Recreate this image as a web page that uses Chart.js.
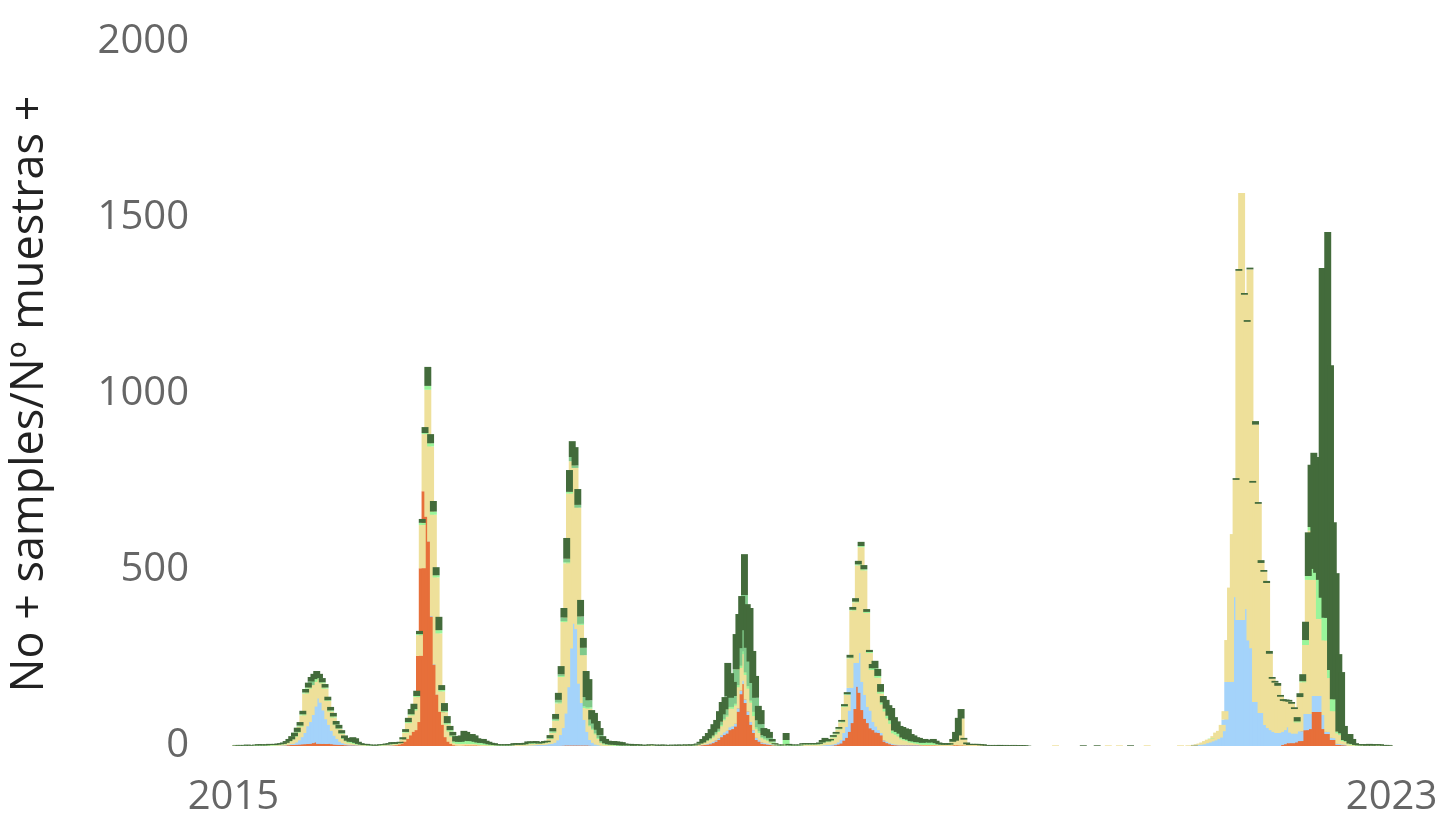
<!DOCTYPE html>
<html>
<head>
<meta charset="utf-8">
<title>No + samples/Nº muestras +</title>
<script src="https://cdn.jsdelivr.net/npm/chart.js@4.4.0/dist/chart.umd.min.js"></script>
<style>
  html, body { margin: 0; padding: 0; background: #fff; }
  #wrap { width: 1443px; height: 815px; }
</style>
</head>
<body>
<div id="wrap"><canvas id="myChart"></canvas></div>
<script>
// weekly counts, 2015 -> 2023 (418 weeks)
const yearLabels = ['2015', '2023'];
const yTicks = [0, 500, 1000, 1500, 2000];

const orange = [
  0,0,0,0,0,0,0,0,0,0,0,0,0,0,0,0,0,1,1,2,
  3,3,4,4,5,5,6,6,8,12,10,6,8,6,6,10,5,4,4,3,
  3,2,2,2,2,1,1,1,1,0,0,0,0,1,1,1,1,2,2,4,
  6,12,20,30,40,45,68,256,505,724,651,580,367,230,145,97,60,25,12,6,
  2,1,1,2,2,2,2,2,2,1,1,1,0,0,0,0,0,0,0,0,
  0,0,0,0,0,0,0,0,0,1,1,1,1,1,1,1,1,1,1,2,
  2,2,2,2,2,2,2,2,2,1,1,0,0,0,0,0,0,0,0,0,
  0,0,0,0,0,0,0,0,0,0,0,0,0,0,0,0,0,0,0,0,
  0,0,0,0,0,0,0,1,2,3,4,5,8,12,17,25,31,35,45,48,
  55,97,147,176,176,122,88,60,37,17,12,6,5,4,3,1,0,0,0,0,
  0,0,0,0,0,0,0,0,0,0,0,0,0,1,1,1,2,4,7,15,
  23,40,65,105,168,210,151,102,77,65,50,45,38,37,30,12,8,5,3,2,
  2,2,2,2,2,2,2,2,2,2,2,2,2,2,1,1,1,1,1,2,
  3,2,2,2,1,1,1,1,1,0,0,0,0,0,0,0,0,0,0,0,
  0,0,0,0,0,0,0,0,0,0,0,0,0,0,0,0,0,0,0,0,
  0,0,0,0,0,0,0,0,0,0,0,0,0,0,0,0,0,0,0,0,
  0,0,0,0,0,0,0,0,0,0,0,0,0,0,0,0,0,0,0,0,
  0,0,0,0,0,0,0,0,0,0,0,0,0,0,0,0,0,0,0,0,
  0,0,0,0,0,0,0,0,0,0,0,0,0,0,0,0,0,3,5,8,
  10,8,10,14,14,45,45,48,97,97,97,97,97,48,34,34,17,17,3,3,
  2,2,0,0,0,0,0,0,0,0,0,0,0,0,0,0,0,0
];

const blue = [
  0,0,0,0,0,0,0,0,0,0,0,0,0,0,0,1,1,1,1,1,
  2,3,6,12,20,32,50,62,80,100,125,133,115,95,70,50,38,25,16,9,
  5,3,2,2,1,1,1,0,0,0,0,0,0,0,0,1,1,1,0,0,
  0,0,0,0,0,0,0,0,0,0,0,1,2,2,1,0,0,0,0,0,
  0,0,0,0,0,0,0,0,0,0,0,0,0,0,0,0,0,0,0,0,
  0,1,1,1,1,1,2,2,2,2,2,2,3,4,5,8,15,30,50,90,
  165,275,345,425,330,175,120,72,38,16,8,4,2,1,0,0,0,0,0,0,
  0,0,0,0,0,0,0,0,0,0,0,0,0,0,0,0,0,0,0,0,
  0,0,0,0,0,0,0,0,1,1,2,3,4,4,5,6,7,8,8,8,
  8,10,10,10,10,10,10,8,8,6,5,4,3,3,2,1,0,0,0,2,
  0,0,0,0,0,1,1,1,1,1,1,1,2,2,2,3,4,6,10,22,
  31,60,100,131,68,68,113,80,68,46,50,23,17,8,7,4,4,3,3,2,
  2,2,2,2,1,1,1,1,0,0,0,0,0,0,0,0,0,0,0,0,
  0,0,0,0,0,0,0,0,0,0,0,0,0,0,0,0,0,0,0,0,
  0,0,0,0,0,0,0,0,0,0,0,0,0,0,0,0,0,0,0,0,
  0,0,0,0,0,0,0,0,0,0,0,0,0,0,0,0,0,0,0,0,
  0,0,0,0,0,0,0,0,0,0,0,0,0,0,0,0,0,0,0,0,
  0,0,0,0,0,0,0,3,4,5,8,10,13,16,20,24,42,75,182,182,
  423,423,358,358,497,389,300,278,125,125,94,94,60,51,45,40,37,37,40,45,
  45,30,25,28,28,46,46,43,45,45,45,45,45,40,6,6,6,5,3,3,
  2,2,0,0,0,0,0,0,0,0,0,0,0,0,0,0,0,0
];

const yellow = [
  1,1,1,1,0,1,1,1,1,1,1,1,1,2,2,1,2,2,3,5,
  8,12,16,22,30,50,93,95,85,70,60,50,55,62,52,38,38,30,28,22,
  12,8,5,4,3,2,1,1,1,1,1,1,1,1,1,1,2,3,3,3,
  2,6,18,35,47,56,71,59,123,162,361,270,288,247,174,58,36,36,29,20,
  6,5,5,5,5,4,4,4,3,3,3,2,2,2,2,1,1,1,1,1,
  1,2,2,2,2,3,4,4,4,4,3,4,5,5,14,28,55,90,145,260,
  352,440,462,363,345,167,136,34,66,39,37,29,18,7,4,3,2,2,1,1,
  1,1,1,1,1,1,1,1,1,1,2,2,1,1,1,1,1,1,1,1,
  1,1,1,2,1,1,1,2,3,5,8,10,12,16,18,25,35,40,55,50,
  52,60,65,75,80,70,65,55,40,25,20,12,10,8,4,2,1,1,1,3,
  1,1,1,1,1,3,3,3,3,3,3,4,6,10,8,10,18,23,30,30,
  57,45,84,149,172,235,301,317,233,153,116,148,139,104,81,82,66,55,30,28,
  23,15,12,10,7,6,4,3,2,2,2,2,2,2,2,2,2,2,2,9,
  12,28,76,16,4,2,2,2,2,2,2,1,0,1,0,1,0,0,1,0,
  0,1,0,0,0,0,0,0,0,0,0,0,0,0,0,0,2,0,0,0,
  0,0,0,0,0,0,0,0,0,0,0,0,0,0,0,2,0,0,0,2,
  0,0,0,0,0,0,0,0,0,2,0,0,0,0,0,0,0,0,0,0,
  0,2,0,0,2,0,2,2,3,5,6,8,7,12,18,19,18,24,119,268,
  179,333,992,1213,785,816,1054,470,788,563,426,401,403,211,146,140,134,100,83,74,
  71,82,70,25,97,90,196,381,470,330,330,219,219,212,260,153,76,77,30,25,
  10,8,5,4,2,1,2,1,1,2,1,1,2,1,1,1,1,0
];

const lightGreen = [
  0,1,0,1,1,1,0,1,1,1,1,1,1,1,1,1,1,1,1,1,
  1,1,2,2,3,3,3,3,0,8,5,4,3,3,2,3,3,2,2,2,
  2,2,3,4,3,2,1,1,1,1,1,0,1,1,1,1,1,1,1,1,
  0,1,2,3,3,4,3,3,6,3,11,9,9,6,9,4,3,4,4,4,
  5,6,6,8,8,8,8,6,5,5,5,4,3,2,1,1,1,1,1,1,
  1,1,1,1,1,1,2,2,2,2,1,1,1,1,2,2,2,3,3,3,
  3,5,0,0,0,3,0,5,4,3,3,3,3,2,2,2,2,2,2,1,
  1,1,1,1,0,1,1,0,1,0,1,0,1,0,0,1,0,0,1,0,
  0,1,0,1,0,1,1,1,1,1,2,2,3,3,3,4,4,4,5,5,
  5,6,6,8,8,7,7,6,12,5,5,3,3,3,2,1,1,1,1,12,
  1,1,1,1,1,1,1,1,1,1,1,1,2,2,2,2,2,2,2,2,
  2,2,2,2,2,3,3,3,3,3,5,5,5,5,6,8,8,10,8,8,
  8,5,4,4,4,4,4,5,5,8,6,6,8,4,2,1,1,1,1,1,
  0,0,0,0,0,0,0,0,0,0,0,0,0,0,0,0,0,0,0,0,
  0,0,0,0,0,0,0,0,0,0,0,0,0,0,0,0,0,0,0,0,
  0,0,0,0,0,0,0,0,0,0,0,0,0,0,0,0,0,0,0,0,
  0,0,0,0,0,0,0,0,0,0,0,0,0,0,0,0,0,0,0,0,
  0,0,0,0,0,0,0,0,0,0,0,0,1,0,0,0,0,0,0,0,
  0,0,0,0,0,0,0,0,0,0,0,0,0,0,0,0,0,0,0,0,
  0,0,0,3,0,3,14,11,10,31,20,111,60,64,64,23,34,34,5,5,
  3,2,2,2,1,1,0,1,0,1,0,1,0,1,0,0,0,0
];

const midGreen = [
  0,0,0,0,0,0,0,0,0,0,0,0,0,0,0,0,0,0,0,0,
  0,0,0,0,0,0,0,0,10,0,0,0,0,0,0,0,0,0,0,0,
  0,0,0,0,0,0,0,0,0,0,0,0,0,0,0,0,0,0,0,0,
  0,0,0,0,0,0,0,0,0,0,0,0,0,0,0,0,0,0,0,0,
  0,0,0,0,0,0,0,0,0,0,0,0,0,0,0,0,0,0,0,0,
  0,0,0,0,0,0,0,0,0,0,0,0,0,0,0,3,4,7,5,10,
  10,0,12,7,8,21,21,26,20,16,15,10,8,4,2,0,0,0,0,0,
  0,0,0,0,0,0,0,0,0,0,0,0,0,0,0,0,0,0,0,0,
  0,0,0,0,0,0,0,0,0,0,0,2,3,5,6,9,13,17,28,26,
  22,45,50,60,155,70,70,50,40,20,20,6,7,5,2,0,0,0,0,0,
  0,0,0,0,0,0,0,0,0,0,0,0,0,0,0,0,0,0,0,0,
  0,0,0,0,0,0,0,0,0,0,0,0,0,0,0,0,0,0,0,0,
  0,0,0,0,0,0,0,0,0,0,0,0,0,0,0,0,0,0,0,0,
  0,0,0,0,0,0,0,0,0,0,0,0,0,0,0,0,0,0,0,0,
  0,0,0,0,0,0,0,0,0,0,0,0,0,0,0,0,0,0,0,0,
  0,0,0,0,0,0,0,0,0,0,0,0,0,0,0,0,0,0,0,0,
  0,0,0,0,0,0,0,0,0,0,0,0,0,0,0,0,0,0,0,0,
  0,0,0,0,0,0,0,0,0,0,0,0,0,0,0,0,0,0,0,0,
  0,0,0,0,0,0,0,0,0,0,0,0,0,0,0,0,0,0,0,0,
  0,0,0,0,0,0,0,0,0,0,0,0,0,0,0,0,0,0,0,0,
  0,0,0,0,0,0,0,0,0,0,0,0,0,0,0,0,0,0
];

const darkGreen = [
  1,1,2,1,2,2,2,1,2,3,3,2,3,3,2,3,3,3,4,5,
  6,9,10,12,10,10,10,14,13,15,13,12,12,10,10,10,10,10,10,9,
  8,8,8,13,13,6,4,3,3,2,2,2,2,2,2,3,3,4,4,3,
  4,6,8,12,15,15,15,9,11,17,54,26,30,23,38,14,23,20,12,10,
  15,16,18,28,25,20,20,18,12,11,11,8,7,5,5,3,3,2,3,3,
  3,4,4,4,4,4,5,5,5,5,3,4,4,4,9,9,14,20,23,27,
  59,62,45,52,45,47,28,74,60,27,30,25,20,14,12,10,10,10,10,10,
  9,5,4,4,4,3,3,2,2,2,2,2,2,2,3,2,2,2,2,2,
  3,2,2,2,2,3,2,3,5,10,12,15,18,22,25,30,35,35,95,70,
  40,100,97,97,116,124,152,91,62,41,40,20,20,17,7,3,2,2,2,20,
  4,2,2,2,2,3,3,3,3,3,3,4,7,8,4,4,5,5,5,5,
  6,6,8,8,10,10,12,12,8,6,12,21,20,22,18,25,30,35,38,30,
  22,30,30,30,20,17,14,12,8,8,8,6,8,7,5,4,4,4,4,8,
  25,50,27,5,5,3,3,3,3,3,3,2,2,2,2,2,3,2,2,2,
  2,2,2,2,2,2,1,0,0,0,0,0,0,0,0,0,0,0,0,0,
  0,0,0,0,0,0,2,0,0,0,0,2,0,0,0,0,0,0,0,0,
  0,0,0,2,0,0,0,0,0,0,0,0,0,0,0,0,0,0,0,0,
  0,0,0,0,0,0,1,0,0,0,0,0,0,0,0,0,0,0,0,0,
  0,5,5,0,5,5,5,5,10,5,8,5,6,8,5,5,8,5,5,5,
  5,5,5,12,11,20,52,124,177,330,329,328,937,934,1096,866,503,358,220,174,
  40,20,27,14,5,3,3,3,4,3,4,3,3,3,2,2,2,1
];

const weeks = orange.map((_, i) => 'week ' + (i + 1));

// stacking order bottom -> top
const layers = [
  { values: orange, color: '#E76F3A' },
  { values: blue, color: '#A4D3FA' },
  { values: yellow, color: '#EEE09A' },
  { values: lightGreen, color: '#99F59A' },
  { values: midGreen, color: '#80C98A' },
  { values: darkGreen, color: '#436B3B' }
];

// floating bars so the upper layers are painted over the lower ones
const base = weeks.map(() => 0);
const datasets = layers.map(layer => {
  const data = layer.values.map((v, i) => {
    const lo = base[i];
    base[i] += v;
    return v > 0 ? [lo, lo + v] : null;
  });
  return {
    data: data,
    backgroundColor: layer.color,
    borderWidth: 0,
    grouped: false,
    barPercentage: 2.5,
    categoryPercentage: 1
  };
}).reverse();

const ctx = document.getElementById('myChart');

new Chart(ctx, {
  type: 'bar',
  data: { labels: weeks, datasets: datasets },
  options: {
    responsive: true,
    maintainAspectRatio: false,
    animation: false,
    layout: { padding: { top: 42, right: 50, left: 0, bottom: 0 } },
    scales: {
      x: {
        grid: { display: false },
        border: { display: false },
        ticks: {
          autoSkip: false,
          maxRotation: 0,
          minRotation: 0,
          padding: 20,
          color: '#666',
          font: { family: 'Open Sans', size: 40 },
          callback: (val, idx, ticks) => idx === 0 ? yearLabels[0] : (idx === ticks.length - 1 ? yearLabels[1] : '')
        },
        afterFit: (scale) => {
          scale.height = 69;
          scale.paddingLeft = 0;
          scale.paddingRight = 0;
        }
      },
      y: {
        min: yTicks[0],
        max: yTicks[yTicks.length - 1],
        grid: { display: false },
        border: { display: false },
        ticks: {
          stepSize: 500,
          padding: 35,
          color: '#666',
          font: { family: 'Open Sans', size: 40 },
          callback: (v) => String(v)
        },
        title: {
          display: true,
          text: 'No + samples/Nº muestras +',
          color: '#222',
          font: { family: 'Open Sans', size: 45 },
          padding: { top: 3, bottom: 0 }
        },
        afterFit: (scale) => {
          scale.width = 232;
          scale.paddingTop = 0;
          scale.paddingBottom = 0;
        }
      }
    },
    plugins: {
      legend: { display: false },
      tooltip: { enabled: false }
    }
  }
});
</script>
</body>
</html>
